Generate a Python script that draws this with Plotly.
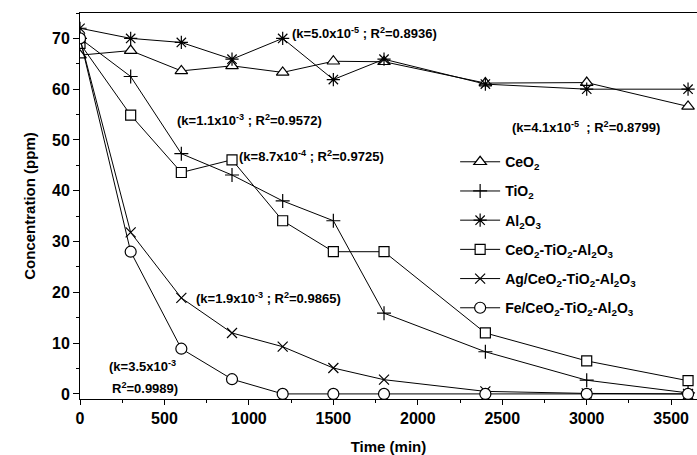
import plotly.graph_objects as go

time_min = [0, 300, 600, 900, 1200, 1500, 1800, 2400, 3000, 3600]
ceo2 = [66.7, 67.6, 63.6, 64.6, 63.3, 65.5, 65.4, 61.2, 61.3, 56.6]
tio2 = [70.0, 62.5, 47.3, 43.1, 38.0, 34.1, 15.9, 8.3, 2.7, 0.2]
al2o3 = [72.0, 70.0, 69.2, 65.9, 70.0, 61.9, 65.9, 61.0, 60.0, 60.0]
ceo2_tio2_al2o3 = [69.0, 54.9, 43.6, 46.1, 34.1, 28.0, 28.0, 12.0, 6.5, 2.6]
ag_ceo2_tio2_al2o3 = [70.0, 31.8, 18.9, 12.0, 9.3, 5.1, 2.8, 0.5, 0.1, 0.0]
fe_ceo2_tio2_al2o3 = [70.0, 28.0, 8.9, 2.9, 0.0, 0.0, 0.0, 0.0, 0.0, 0.0]

series_names = [
    "CeO<sub>2</sub>",
    "TiO<sub>2</sub>",
    "Al<sub>2</sub>O<sub>3</sub>",
    "CeO<sub>2</sub>-TiO<sub>2</sub>-Al<sub>2</sub>O<sub>3</sub>",
    "Ag/CeO<sub>2</sub>-TiO<sub>2</sub>-Al<sub>2</sub>O<sub>3</sub>",
    "Fe/CeO<sub>2</sub>-TiO<sub>2</sub>-Al<sub>2</sub>O<sub>3</sub>",
]
series_values = [ceo2, tio2, al2o3, ceo2_tio2_al2o3, ag_ceo2_tio2_al2o3, fe_ceo2_tio2_al2o3]
symbols = ["triangle-up", "cross-thin-open", "asterisk-open", "square", "x-thin-open", "circle"]
fills = ["white", "black", "black", "white", "black", "white"]
sizes = [11, 10, 11, 10, 10, 11]

annot_texts = [
    "(k=5.0x10<sup>-5</sup> ; R<sup>2</sup>=0.8936)",
    "(k=1.1x10<sup>-3</sup> ; R<sup>2</sup>=0.9572)",
    "(k=8.7x10<sup>-4</sup> ; R<sup>2</sup>=0.9725)",
    "(k=1.9x10<sup>-3</sup> ; R<sup>2</sup>=0.9865)",
    "(k=3.5x10<sup>-3</sup>",
    "R<sup>2</sup>=0.9989)",
    "(k=4.1x10<sup>-5</sup>  ; R<sup>2</sup>=0.8799)",
]
annot_x = [1243, 562, 928, 675, 160, 178, 2546]
annot_y = [71.1, 53.9, 46.8, 18.9, 5.5, 1.2, 52.6]

fig = go.Figure()
for i, (name, vals) in enumerate(zip(series_names, series_values)):
    fig.add_trace(go.Scatter(
        x=time_min, y=vals, name=name, mode="lines+markers",
        legendgroup=f"g{i}",
        line=dict(color="black", width=1),
        marker=dict(symbol=symbols[i], size=sizes[i], color=fills[i],
                    line=dict(color="black", width=1.2)),
    ))

font_family = "Liberation Sans, Arial, sans-serif"
for t, x, y in zip(annot_texts, annot_x, annot_y):
    fig.add_annotation(x=x, y=y, text=t, showarrow=False, xanchor="left", yanchor="middle",
                       font=dict(family=font_family, size=13, color="black", weight="bold"))

fig.update_layout(
    width=697, height=455,
    margin=dict(l=80, r=0, t=13, b=56),
    paper_bgcolor="white", plot_bgcolor="white",
    font=dict(family=font_family, color="black"),
    showlegend=True,
    legend=dict(x=0.608, y=0.655, xanchor="left", yanchor="top",
                bgcolor="rgba(0,0,0,0)", borderwidth=0,
                font=dict(family=font_family, size=14, color="black", weight="bold"),
                itemwidth=40, tracegroupgap=8),
    xaxis=dict(range=[0, 3653], showgrid=False, zeroline=False,
               showline=True, linecolor="black", linewidth=1, mirror=True,
               ticks="outside", ticklen=5, tickcolor="black", dtick=500, tick0=0,
               minor=dict(ticks="outside", ticklen=3, dtick=250, tickcolor="black"),
               tickfont=dict(family=font_family, size=16, color="black", weight="bold"),
               title=dict(text="Time (min)", standoff=18,
                          font=dict(family=font_family, size=15, color="black", weight="bold"))),
    yaxis=dict(range=[-1, 75], showgrid=False, zeroline=False,
               showline=True, linecolor="black", linewidth=1, mirror=False,
               ticks="outside", ticklen=6, tickcolor="black", dtick=10, tick0=0,
               minor=dict(ticks="outside", ticklen=3, dtick=5, tickcolor="black"),
               tickfont=dict(family=font_family, size=16, color="black", weight="bold"),
               title=dict(text="Concentration (ppm)", standoff=12,
                          font=dict(family=font_family, size=15, color="black", weight="bold"))),
)

fig.write_html("out.html")
